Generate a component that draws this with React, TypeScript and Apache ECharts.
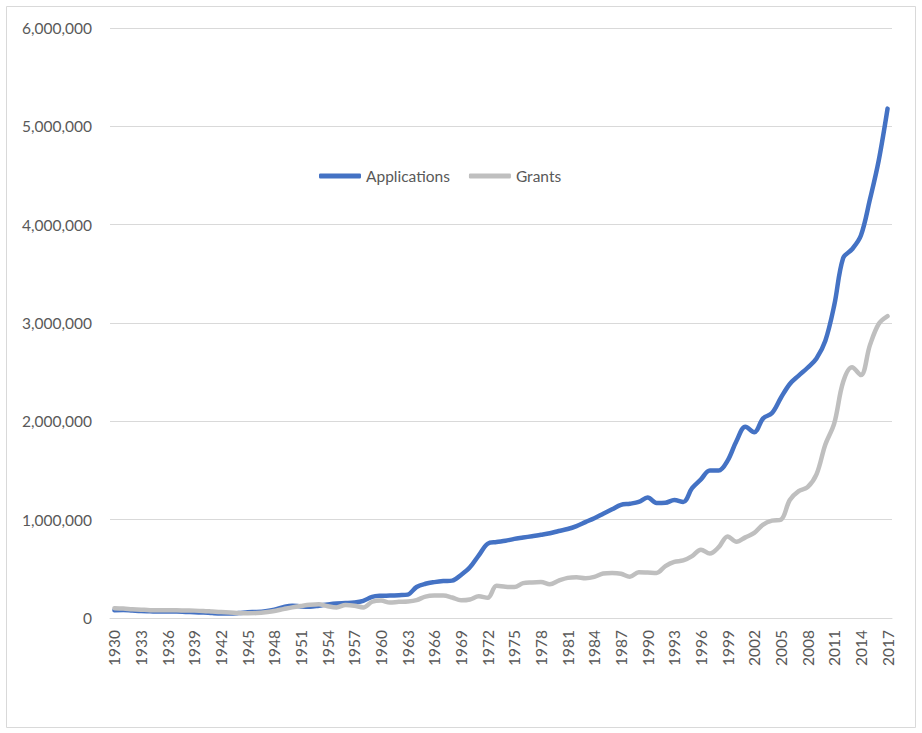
import React, { useEffect, useRef } from "react";
import * as echarts from "echarts";

const years: string[] = [];
for (let y = 1930; y <= 2017; y++) years.push(String(y));

const applications = [
  80000, 82000, 76000, 70000, 68000, 66000, 66000, 66000, 62000, 58000,
  55000, 50000, 46000, 45000, 50000, 58000, 62000, 70000, 85000, 110000,
  125000, 118000, 115000, 125000, 138000, 148000, 152000, 158000, 175000, 215000,
  226000, 228000, 232000, 238000, 315000, 348000, 365000, 376000, 380000, 438000,
  515000, 637000, 755000, 772000, 785000, 805000, 818000, 832000, 846000, 862000,
  885000, 905000, 935000, 975000, 1015000, 1060000, 1105000, 1150000, 1162000, 1180000,
  1225000, 1170000, 1172000, 1200000, 1180000, 1320000, 1410000, 1500000, 1500000, 1600000,
  1800000, 1945000, 1890000, 2030000, 2085000, 2240000, 2380000, 2465000, 2545000, 2640000,
  2820000, 3180000, 3660000, 3750000, 3890000, 4250000, 4650000, 5180000,
];

const grants = [
  100000, 96000, 90000, 85000, 80000, 78000, 78000, 78000, 76000, 75000,
  72000, 66000, 60000, 56000, 50000, 48000, 50000, 58000, 72000, 90000,
  108000, 122000, 134000, 140000, 120000, 108000, 132000, 125000, 108000, 165000,
  178000, 157000, 165000, 168000, 182000, 218000, 228000, 228000, 208000, 180000,
  188000, 220000, 205000, 328000, 318000, 315000, 355000, 362000, 365000, 343000,
  380000, 408000, 415000, 405000, 418000, 452000, 458000, 450000, 420000, 465000,
  462000, 458000, 528000, 570000, 585000, 630000, 695000, 655000, 720000, 830000,
  775000, 820000, 865000, 950000, 990000, 1000000, 1200000, 1290000, 1330000, 1460000,
  1765000, 1980000, 2400000, 2550000, 2470000, 2770000, 2990000, 3070000,
];

const seriesNames = ["Applications", "Grants"];
const FONT = "Lato";
const TEXT = "#595959";

export default function App() {
  const ref = useRef<HTMLDivElement>(null);
  useEffect(() => {
    if (!ref.current) return;
    const chart = echarts.init(ref.current, undefined, { renderer: "svg" });
    chart.setOption({
      animation: false,
      backgroundColor: "#ffffff",
      graphic: [
        {
          type: "rect",
          shape: { x: 6.5, y: 6.5, width: 909, height: 721 },
          style: { fill: "none", stroke: "#d9d9d9", lineWidth: 1 },
          silent: true,
        },
      ],
      legend: {
        left: 314,
        top: 163,
        itemWidth: 42,
        itemHeight: 5,
        itemGap: 19,
        icon: "roundRect",
        textStyle: { color: TEXT, fontFamily: FONT, fontSize: 15.5 },
        data: seriesNames,
      },
      grid: { left: 110, top: 28, width: 782, height: 590, containLabel: false },
      xAxis: {
        type: "category",
        data: years,
        boundaryGap: true,
        axisLine: { show: true, lineStyle: { color: "#d9d9d9", width: 1 } },
        axisTick: { show: false },
        axisLabel: {
          interval: 2,
          rotate: 90,
          margin: 12,
          color: TEXT,
          fontFamily: FONT,
          fontSize: 15.5,
        },
      },
      yAxis: {
        type: "value",
        min: 0,
        max: 6000000,
        interval: 1000000,
        axisLine: { show: false },
        axisTick: { show: false },
        splitLine: { lineStyle: { color: "#d9d9d9", width: 1 } },
        axisLabel: {
          margin: 18,
          color: TEXT,
          fontFamily: FONT,
          fontSize: 15.5,
          formatter: (v: number) => v.toLocaleString("en-US"),
        },
      },
      series: [
        {
          name: seriesNames[0],
          type: "line",
          data: applications,
          smooth: 0.35,
          symbol: "none",
          itemStyle: { color: "#4472C4" },
          lineStyle: { color: "#4472C4", width: 4.5, cap: "round", join: "round" },
        },
        {
          name: seriesNames[1],
          type: "line",
          data: grants,
          smooth: 0.35,
          symbol: "none",
          itemStyle: { color: "#BFBFBF" },
          lineStyle: { color: "#BFBFBF", width: 4.5, cap: "round", join: "round" },
        },
      ],
    });
    return () => chart.dispose();
  }, []);
  return (
    <div
      ref={ref}
      style={{ position: "absolute", left: 0, top: 0, width: 922, height: 733 }}
    />
  );
}
